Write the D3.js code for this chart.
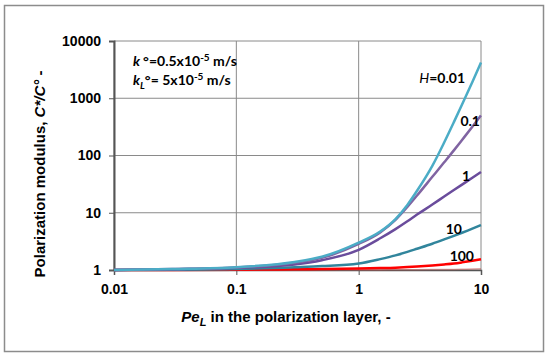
<!DOCTYPE html>
<meta charset="utf-8">
<style>
body { margin: 0; background: #fff; }
svg { display: block; }
.tick text { font-family: "Liberation Sans", Arial, sans-serif; font-weight: bold; font-size: 14px; fill: #000; }
.note { font-family: Lato, "Open Sans", sans-serif; font-weight: bold; font-size: 14px; fill: #000; }
.axis-title { font-family: "Liberation Sans", Arial, sans-serif; font-weight: bold; font-size: 15px; fill: #000; }
</style>
<body>
<svg id="chart" width="550" height="356"></svg>
</body>
<script src="https://d3js.org/d3.v7.min.js"></script>
<script>
// values
var pe = [0.01, 0.03, 0.1, 0.3, 0.5, 1, 1.5, 2, 2.5, 3, 4, 5, 6, 7, 8.5, 10];
var h001 = [1, 1.04, 1.12, 1.38, 1.7, 3.0, 4.69, 7.76, 13.7, 24.2, 66, 169, 383, 778, 1930, 4230];
var h01 = [1, 1.04, 1.11, 1.34, 1.63, 2.85, 4.54, 7.5, 12.6, 20, 42.4, 76, 123, 187, 318, 502];
var h1 = [1, 1.03, 1.09, 1.25, 1.48, 2.25, 3.58, 5.18, 7.1, 9.3, 13.9, 19.2, 24.9, 31, 40.8, 51.5];
var h10 = [1, 1.01, 1.04, 1.12, 1.17, 1.3, 1.55, 1.8, 2.07, 2.35, 2.88, 3.42, 3.95, 4.48, 5.28, 6.1];
var h100 = [1, 1, 1.01, 1.03, 1.04, 1.06, 1.08, 1.1, 1.125, 1.15, 1.2, 1.25, 1.3, 1.36, 1.45, 1.54];
var h1000 = [1, 1, 1, 1, 1, 1.003, 1.005, 1.008, 1.01, 1.012, 1.016, 1.02, 1.025, 1.03, 1.04, 1.05];
var xTicks = [0.01, 0.1, 1, 10];
var yTicks = [1, 10, 100, 1000, 10000];

(function () {
  var series = [
    { name: "1000", values: h1000, color: "#C0504D", width: 1.5, opacity: 0.5 },
    { name: "100", values: h100, color: "#FF0000", width: 2.5, opacity: 1 },
    { name: "10", values: h10, color: "#31859C", width: 2.5, opacity: 1 },
    { name: "1", values: h1, color: "#6A4C9C", width: 2.5, opacity: 1 },
    { name: "0.1", values: h01, color: "#8064A2", width: 2.5, opacity: 1 },
    { name: "0.01", values: h001, color: "#4BACC6", width: 2.5, opacity: 1 }
  ];

  var svg = d3.select("#chart");
  var pLeft = 114, pRight = 481, pTop = 41, pBottom = 270;

  var x = d3.scaleLog().domain([0.01, 10]).range([pLeft, pRight]);
  var y = d3.scaleLog().domain([1, 10000]).range([pBottom, pTop]);

  // outer frame
  svg.append("rect").attr("x", 4.5).attr("y", 5.5).attr("width", 539).attr("height", 346)
    .attr("fill", "#fff").attr("stroke", "#8c8c8c").attr("stroke-width", 1.5);

  // gridlines
  svg.append("g").selectAll("line").data(yTicks).enter().append("line")
    .attr("x1", pLeft).attr("x2", pRight)
    .attr("y1", function(d) { return y(d); }).attr("y2", function(d) { return y(d); })
    .attr("stroke", "#8a8a8a").attr("stroke-width", 1);
  svg.append("g").selectAll("line").data(xTicks).enter().append("line")
    .attr("y1", pTop).attr("y2", pBottom)
    .attr("x1", function(d) { return x(d); }).attr("x2", function(d) { return x(d); })
    .attr("stroke", "#8a8a8a").attr("stroke-width", 1);

  // axes
  var xAxis = d3.axisBottom(x).tickValues(xTicks).tickSize(5).tickPadding(6)
    .tickFormat(function(d) { return String(d); });
  var yAxis = d3.axisLeft(y).tickValues(yTicks).tickSize(5).tickPadding(8)
    .tickFormat(function(d) { return String(d); });

  var gx = svg.append("g").attr("transform", "translate(0," + pBottom + ")").call(xAxis);
  var gy = svg.append("g").attr("transform", "translate(" + pLeft + ",0)").call(yAxis);
  gx.select(".domain").attr("stroke", "#555").attr("stroke-width", 1.5);
  gy.select(".domain").attr("stroke", "#555").attr("stroke-width", 2);
  gx.selectAll(".tick line").attr("stroke", "#555");
  gy.selectAll(".tick line").attr("stroke", "#555");
  gx.selectAll(".tick text").attr("dy", "0.95em");

  // curves
  var line = d3.line()
    .x(function(d, i) { return x(pe[i]); })
    .y(function(d) { return y(d); })
    .curve(d3.curveMonotoneX);

  svg.append("g").selectAll("path").data(series).enter().append("path")
    .attr("d", function(s) { return line(s.values); })
    .attr("fill", "none")
    .attr("stroke", function(s) { return s.color; })
    .attr("stroke-width", function(s) { return s.width; })
    .attr("stroke-opacity", function(s) { return s.opacity; });

  // curve labels
  var labels = [
    { t: "0.01", px: 465, py: 83, h: true },
    { t: "0.1", px: 480, py: 126 },
    { t: "1", px: 470, py: 181 },
    { t: "10", px: 462, py: 234 },
    { t: "100", px: 474, py: 261 }
  ];
  labels.forEach(function(l) {
    var t = svg.append("text").attr("class", "note").attr("x", l.px).attr("y", l.py)
      .attr("text-anchor", "end");
    if (l.h) {
      t.append("tspan").attr("font-style", "italic").attr("font-weight", "normal").text("H");
      t.append("tspan").text("=");
    }
    t.append("tspan").text(l.t);
  });

  // parameter note
  var n1 = svg.append("text").attr("class", "note").attr("x", 133).attr("y", 66);
  n1.append("tspan").attr("font-style", "italic").text("k ");
  n1.append("tspan").text("°=0.5x10");
  n1.append("tspan").attr("dy", -5).attr("font-size", 10).text("-5");
  n1.append("tspan").attr("dy", 5).text(" m/s");

  var n2 = svg.append("text").attr("class", "note").attr("x", 133).attr("y", 85);
  n2.append("tspan").attr("font-style", "italic").text("k");
  n2.append("tspan").attr("font-style", "italic").attr("dy", 4).attr("font-size", 10).text("L");
  n2.append("tspan").attr("dy", -4).text("°= 5x10");
  n2.append("tspan").attr("dy", -5).attr("font-size", 10).text("-5");
  n2.append("tspan").attr("dy", 5).text(" m/s");

  // axis titles
  var xt = svg.append("text").attr("class", "axis-title").attr("x", 286).attr("y", 322)
    .attr("text-anchor", "middle");
  xt.append("tspan").attr("font-style", "italic").text("Pe");
  xt.append("tspan").attr("font-style", "italic").attr("dy", 4).attr("font-size", 11).text("L");
  xt.append("tspan").attr("dy", -4).text(" in the polarization layer, -");

  var yt = svg.append("text").attr("class", "axis-title")
    .attr("transform", "translate(45,174) rotate(-90)").attr("text-anchor", "middle");
  yt.append("tspan").text("Polarization modulus, ");
  yt.append("tspan").attr("font-style", "italic").text("C*/C°");
  yt.append("tspan").text(" -");
})();
</script>
